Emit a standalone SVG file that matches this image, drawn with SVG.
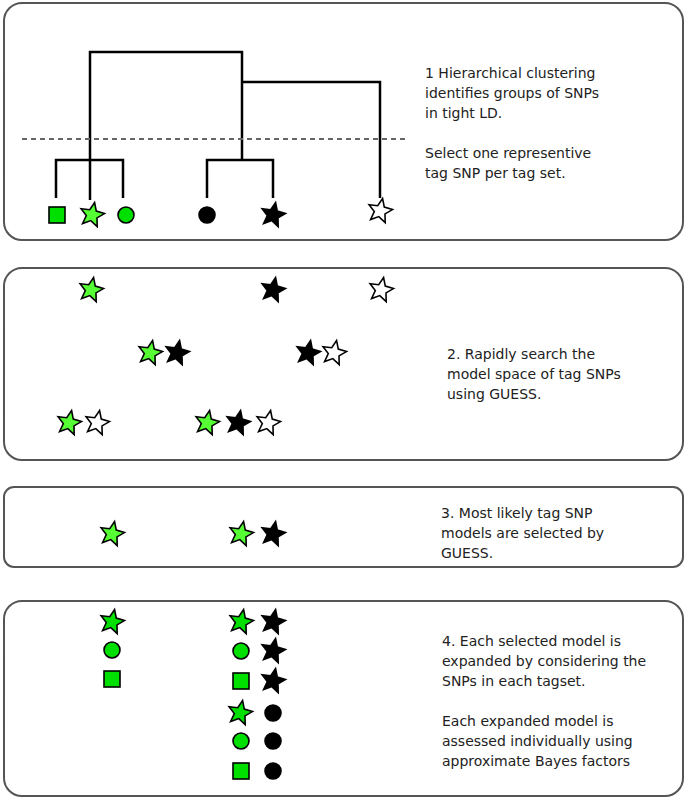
<svg xmlns="http://www.w3.org/2000/svg" xmlns:xlink="http://www.w3.org/1999/xlink" width="688" height="800" viewBox="0 0 688 800">
<style>
.panel{fill:#fff;stroke:#555;stroke-width:2}
.t{font-family:"DejaVu Sans",sans-serif;font-size:14px;fill:#222}
.ln{stroke:#000;stroke-width:2.5;fill:none}
.g{fill:#00e000;stroke:#000;stroke-width:1.6}
.gs{fill:#5f3;stroke:#000;stroke-width:1.6}
.k{fill:#000;stroke:#000;stroke-width:1.6}
.w{fill:#fff;stroke:#000;stroke-width:1.6}
</style>
<defs>
<path id="star" d="M2.6,-12.4 L4.3,-3.9 L12.5,-1.4 L5,2.9 L5.2,11.6 L-1.2,5.6 L-9.4,8.5 L-5.7,0.6 L-10.9,-6.3 L-2.3,-5.3 Z"/>
</defs>
<rect class="panel" x="4" y="3" width="679" height="237" rx="18"/>
<rect class="panel" x="4" y="268" width="679" height="192" rx="18"/>
<rect class="panel" x="4" y="487" width="679" height="80" rx="10"/>
<rect class="panel" x="4" y="601" width="679" height="195" rx="18"/>
<g id="connectors">
<path class="ln" d="M90,200 V52 H242 V160 M242,82 H380 V198 M56,198 V160 H123 V198 M207,198 V160 H273 V198"/>
<line x1="22" y1="139" x2="405" y2="139" stroke="#666" stroke-width="2.2" stroke-dasharray="5,4"/>
</g>
<g id="p1">
<rect class="g" x="49" y="207" width="16" height="16"/>
<use href="#star" class="gs" x="92" y="215"/>
<circle class="g" cx="126" cy="215" r="8"/>
<circle class="k" cx="207" cy="215" r="8"/>
<use href="#star" class="k" x="273" y="215"/>
<use href="#star" class="w" x="380" y="211"/>
<text class="t" x="425" y="78">1 Hierarchical clustering</text>
<text class="t" x="425" y="98">identifies groups of SNPs</text>
<text class="t" x="425" y="118">in tight LD.</text>
<text class="t" x="425" y="158">Select one representive</text>
<text class="t" x="425" y="178">tag SNP per tag set.</text>
</g>
<g id="p2">
<use href="#star" class="gs" x="91" y="290"/>
<use href="#star" class="k" x="273" y="290"/>
<use href="#star" class="w" x="381" y="290"/>
<use href="#star" class="gs" x="150" y="353"/>
<use href="#star" class="k" x="177" y="353"/>
<use href="#star" class="k" x="308" y="353"/>
<use href="#star" class="w" x="334" y="353"/>
<use href="#star" class="gs" x="69" y="423"/>
<use href="#star" class="w" x="97" y="423"/>
<use href="#star" class="gs" x="207" y="423"/>
<use href="#star" class="k" x="238" y="423"/>
<use href="#star" class="w" x="268" y="423"/>
<text class="t" x="447" y="359">2. Rapidly search the</text>
<text class="t" x="447" y="379">model space of tag SNPs</text>
<text class="t" x="447" y="399">using GUESS.</text>
</g>
<g id="p3">
<use href="#star" class="gs" x="112" y="534"/>
<use href="#star" class="gs" x="241" y="534"/>
<use href="#star" class="k" x="273" y="534"/>
<text class="t" x="441" y="518">3. Most likely tag SNP</text>
<text class="t" x="441" y="538">models are selected by</text>
<text class="t" x="441" y="558">GUESS.</text>
</g>
<g id="p4">
<use href="#star" class="g" x="112" y="622"/>
<circle class="g" cx="112" cy="650" r="8"/>
<rect class="g" x="104" y="671" width="16" height="16"/>
<use href="#star" class="g" x="241" y="622"/>
<use href="#star" class="k" x="273" y="622"/>
<circle class="g" cx="241" cy="651" r="8"/>
<use href="#star" class="k" x="273" y="651"/>
<rect class="g" x="233" y="673" width="16" height="16"/>
<use href="#star" class="k" x="273" y="681"/>
<use href="#star" class="g" x="240" y="713"/>
<circle class="k" cx="273" cy="713" r="8"/>
<circle class="g" cx="241" cy="741" r="8"/>
<circle class="k" cx="273" cy="741" r="8"/>
<rect class="g" x="233" y="763" width="16" height="16"/>
<circle class="k" cx="273" cy="771" r="8"/>
<text class="t" x="442" y="646">4. Each selected model is</text>
<text class="t" x="442" y="666">expanded by considering the</text>
<text class="t" x="442" y="686">SNPs in each tagset.</text>
<text class="t" x="442" y="726">Each expanded model is</text>
<text class="t" x="442" y="746">assessed individually using</text>
<text class="t" x="442" y="766">approximate Bayes factors</text>
</g>
</svg>
